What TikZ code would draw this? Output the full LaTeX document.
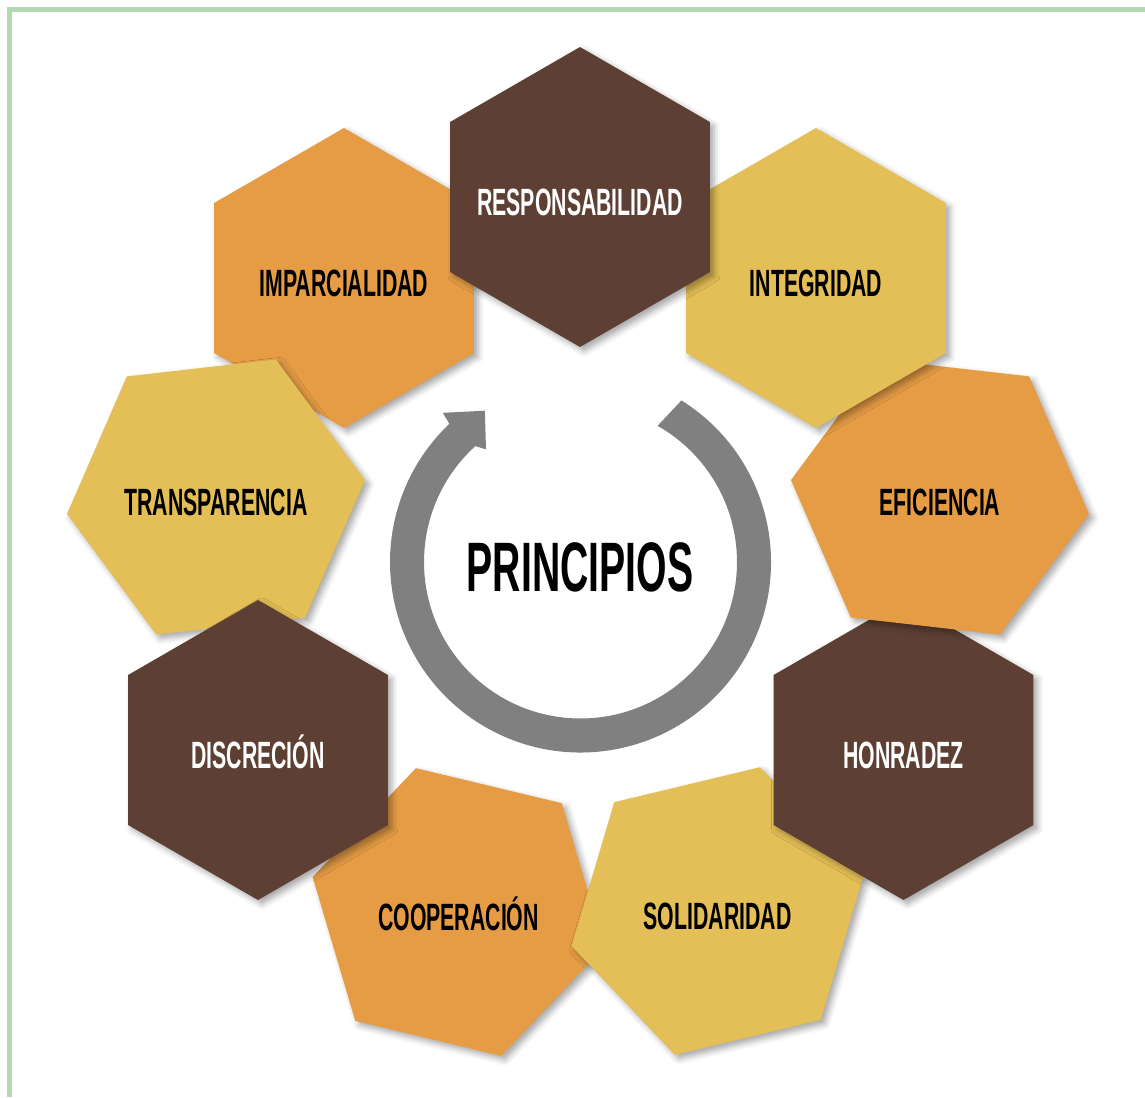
\documentclass[tikz,border=0pt]{standalone}
\usepackage{fontspec}
\newfontfamily\hexfont{Liberation Sans}[FakeStretch=0.56]
\usetikzlibrary{shapes.geometric, shadows.blur}
\definecolor{hexbrown}{HTML}{5D4033}
\definecolor{hexorange}{HTML}{E59C45}
\definecolor{hexyellow}{HTML}{E4BF57}
\definecolor{ringgrey}{HTML}{808080}
\definecolor{framegreen}{HTML}{B2D9B2}
\tikzset{
hex/.style={regular polygon, regular polygon sides=6, minimum size=150pt,
  inner xsep=-25pt, inner ysep=0pt, shape border rotate=30,
  text height=18pt, text depth=0pt,
  blur shadow={shadow xshift=2pt, shadow yshift=-2pt, shadow blur radius=3pt, shadow opacity=35},
  font=\hexfont\bfseries\fontsize{19}{21}\selectfont},
darkhex/.style={hex, fill=hexbrown, text=white},
orangehex/.style={hex, fill=hexorange, text=black},
yellowhex/.style={hex, fill=hexyellow, text=black},
frameline/.style={draw=framegreen, line width=2.5pt},
}

\begin{document}
\begin{tikzpicture}[x=0.5pt, y=-0.5pt]
    \useasboundingbox (0,0) rectangle (1145,1097);

    %frame, top and left only
    \draw[frameline] (1145,9.8) -- (9.8,9.8) -- (9.8,1097);

    %hexagons, from back to front
    \node[orangehex, shape border rotate=46.5] (coop)   at (458.5,912) {COOPERACIÓN};
    \node[yellowhex, shape border rotate=13.5] (solid)  at (717.5,911) {SOLIDARIDAD};
    \node[darkhex]                             (honr)   at (903.5,750) {HONRADEZ};
    \node[orangehex, shape border rotate=53.5] (efic)   at (940,497)   {EFICIENCIA};
    \node[yellowhex]                           (integ)  at (816,278)   {INTEGRIDAD};
    \node[orangehex]                           (imparc) at (344,278)   {IMPARCIALIDAD};
    \node[yellowhex, shape border rotate=6.5]  (transp) at (216,497)   {TRANSPARENCIA};
    \node[darkhex]                             (disc)   at (258,750)   {DISCRECIÓN};
    \node[darkhex]                             (resp)   at (580,197)   {RESPONSABILIDAD};

    %ring arrow round the centre
    \coordinate (ctr) at (580.5,562);
    \fill[ringgrey, shift={(ctr)}, x=0.5pt, y=0.5pt]
        (58:190.5) arc[start angle=58, end angle=-226.5, radius=190.5]
        -- (-227.3:203) -- (-237.7:179) -- (-230:147) -- (-227.8:156.5)
        arc[start angle=-227.8, end angle=60.5, radius=156.5] -- cycle;

    \node[font=\hexfont\bfseries\fontsize{35}{37}\selectfont] (title) at (580,567) {PRINCIPIOS};

\end{tikzpicture}
\end{document}
